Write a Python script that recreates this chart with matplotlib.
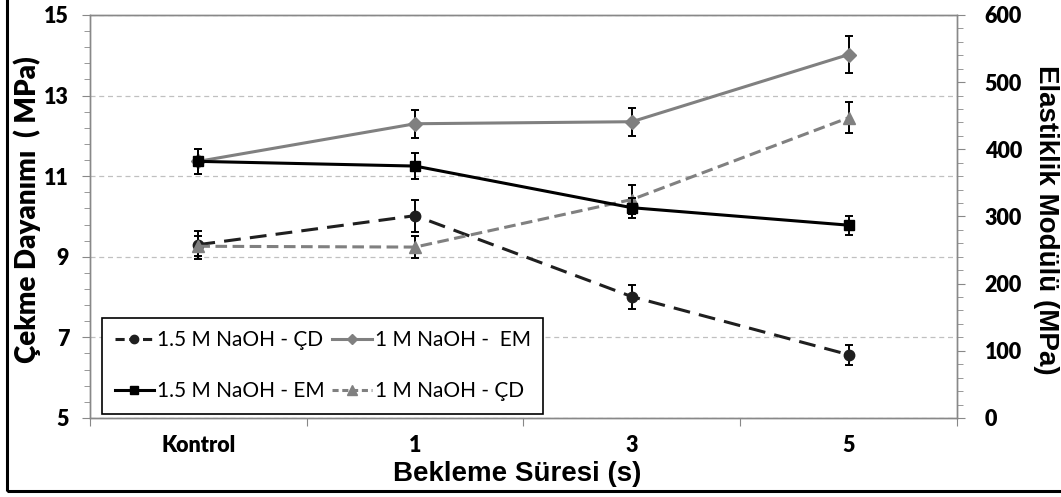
import numpy as np
import matplotlib
matplotlib.use("Agg")
import matplotlib.pyplot as plt
from matplotlib.patches import Rectangle
from matplotlib.lines import Line2D

# bekleme süreleri
kategoriler = ["Kontrol", "1", "3", "5"]

# çekme dayanımı (MPa) - sol eksen
cd_15M = [9.30, 10.02, 8.01, 6.57]
cd_15M_err = [0.35, 0.40, 0.30, 0.25]
cd_1M = [9.26, 9.24, 10.42, 12.45]
cd_1M_err = [0.25, 0.28, 0.35, 0.38]

# elastiklik modülü (MPa) - sağ eksen
em_15M = [382, 375, 313, 287]
em_15M_err = [19, 19, 15, 14]
em_1M = [382, 438, 441, 541]
em_1M_err = [19, 21, 21, 27]

x = np.arange(len(kategoriler))

fig = plt.figure(figsize=(10.61, 4.97), dpi=100)
ax = fig.add_axes([0.0848, 0.159, 0.8172, 0.811])
ax2 = ax.twinx()

eb = dict(ecolor="black", elinewidth=1.4, capsize=3, capthick=1.4)

# sol eksen serileri
ax.errorbar(x, cd_15M, yerr=cd_15M_err, color="#1f1f1f", lw=2.2,
            dashes=(5.5, 3), marker="o", ms=7.5, zorder=3, **eb)
ax.errorbar(x, cd_1M, yerr=cd_1M_err, color="#808080", lw=2.2,
            dashes=(3.8, 1.8), marker="^", ms=9, zorder=3, **eb)

# sağ eksen serileri
ax2.errorbar(x, em_1M, yerr=em_1M_err, color="#808080", lw=2.2,
             marker="D", ms=7.5, zorder=3, **eb)
ax2.errorbar(x, em_15M, yerr=em_15M_err, color="black", lw=2.2,
             marker="s", ms=7.5, zorder=4, **eb)

spine_c = "#888888"
for a in (ax, ax2):
    for s in a.spines.values():
        s.set_color(spine_c)
        s.set_linewidth(1)
    a.tick_params(which="both", color=spine_c, direction="out")
    a.tick_params(which="major", length=6)
    a.tick_params(which="minor", length=4)

ax.set_xlim(-0.5, len(kategoriler) - 0.5)
ax.set_ylim(5, 15)
ax2.set_ylim(0, 600)

ax.set_yticks(np.arange(5, 15.1, 2))
ax.set_yticks(np.arange(5, 15.01, 0.4), minor=True)
ax2.set_yticks(np.arange(0, 601, 100))
ax2.set_yticks(np.arange(0, 601, 20), minor=True)

# kategori sınırlarında tik, etiketler ortada
ax.set_xticks(np.arange(len(kategoriler) + 1) - 0.5)
ax.set_xticklabels([])
ax.set_xticks(x, minor=True)
ax.set_xticklabels(kategoriler, minor=True)
ax.tick_params(axis="x", which="minor", length=0, pad=12)
ax.tick_params(axis="x", which="major", length=6)

for lab in ax.get_xticklabels(minor=True) + ax.get_yticklabels() + ax2.get_yticklabels():
    lab.set_fontfamily("Lato")
    lab.set_fontweight("heavy")
    lab.set_fontsize(15.5)
ax.tick_params(axis="y", which="major", pad=9)
ax2.tick_params(axis="y", which="major", pad=14)

ax.yaxis.grid(True, which="major", color="#c0c0c0", linestyle=(0, (4, 3)), lw=0.9)
ax.set_axisbelow(True)

fig.text(0.0255, 0.578, "Çekme Dayanımı  ( MPa)", rotation=90, ha="center", va="center",
         family="Lato", weight="heavy", size=20)
fig.text(0.986, 0.558, "Elastiklik Modülü (MPa)", rotation=-90, ha="center", va="center",
         family="Liberation Sans", weight="bold", size=20)
fig.text(0.487, 0.047, "Bekleme Süresi (s)", ha="center", va="center",
         family="Liberation Sans", weight="bold", size=20)

handles = [
    Line2D([], [], color="#1f1f1f", lw=2.2, dashes=(3, 1.5), marker="o", ms=6),
    Line2D([], [], color="black", lw=2.2, marker="s", ms=6),
    Line2D([], [], color="#808080", lw=2.2, marker="D", ms=5.5),
    Line2D([], [], color="#808080", lw=2.2, dashes=(2, 1.2), marker="^", ms=7),
]
labels = ["1.5 M NaOH - ÇD", "1.5 M NaOH - EM", "1 M NaOH -  EM", "1 M NaOH - ÇD"]
leg = ax2.legend(handles, labels, ncol=2, loc="lower left", bbox_to_anchor=(0.014, 0.01),
                 fancybox=False, framealpha=1, edgecolor="black", handlelength=1.9,
                 handletextpad=0.15, columnspacing=0.35, labelspacing=1.5, borderpad=0.6,
                 borderaxespad=0, prop=dict(family="Lato", size=15))
leg.get_frame().set_linewidth(1.2)
leg.set_zorder(10)

# dış çerçeve
fig.patches.append(Rectangle((7 / 1061, 6 / 497), 1.1, 1, transform=fig.transFigure,
                             fill=False, edgecolor="black", lw=2.2, clip_on=False))

fig.savefig("out.png", dpi=100)
